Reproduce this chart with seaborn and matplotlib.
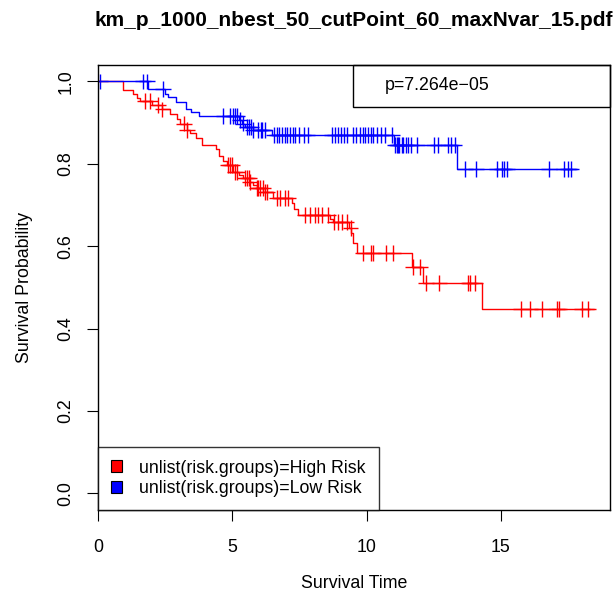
import numpy as np
import pandas as pd
import matplotlib
matplotlib.use("Agg")
import matplotlib.pyplot as plt
from matplotlib.patches import Patch, Rectangle
import seaborn as sns

# --- Data (time, survival after the drop) ---
high_event_times = [0.94, 1.29, 1.44, 1.56, 2.00, 2.37, 2.68, 2.95, 3.05, 3.30,
                    3.43, 3.65, 3.86, 4.39, 4.52, 4.64, 4.82, 5.04, 5.23, 5.41,
                    5.63, 5.78, 5.91, 6.16, 6.51, 7.21, 7.30, 7.46, 8.64, 8.74,
                    9.36, 9.42, 9.50, 9.63, 11.68, 12.09, 14.29]
high_event_surv = [0.980, 0.969, 0.960, 0.952, 0.942, 0.932, 0.922, 0.910, 0.898, 0.882,
                   0.874, 0.863, 0.846, 0.836, 0.819, 0.807, 0.797, 0.781, 0.773, 0.765,
                   0.757, 0.749, 0.741, 0.731, 0.718, 0.705, 0.691, 0.675, 0.667, 0.659,
                   0.645, 0.632, 0.608, 0.584, 0.550, 0.511, 0.447]
high_end_time = 18.48
high_censor = [1.75, 1.94, 2.24, 2.40, 3.21, 3.30, 4.84, 4.92, 5.00, 5.10, 5.18,
               5.47, 5.55, 5.62, 5.66, 5.91, 5.97, 6.03, 6.15, 6.22, 6.30,
               6.65, 6.78, 6.96, 7.09, 7.71, 7.90, 8.08, 8.19, 8.33, 8.57,
               8.80, 8.95, 9.10, 9.25, 9.40, 9.86, 10.16, 10.23, 10.73, 10.98,
               11.74, 11.99, 12.22, 12.71, 13.79, 13.85, 14.04,
               15.75, 16.09, 16.52, 17.08, 17.16, 18.01, 18.24]

low_event_times = [1.87, 2.50, 2.62, 2.90, 3.28, 3.45, 3.77, 5.25, 5.35, 5.47,
                   5.78, 6.47, 11.00, 13.35]
low_event_surv = [0.981, 0.969, 0.963, 0.949, 0.934, 0.926, 0.917, 0.906, 0.898, 0.890,
                  0.882, 0.870, 0.846, 0.788]
low_end_time = 17.83
low_censor = [0.07, 1.69, 1.81, 2.43, 4.67, 4.92, 5.04, 5.10, 5.16, 5.29, 5.40,
              5.55, 5.62, 5.70, 5.78, 5.96, 6.05, 6.12, 6.20,
              6.55, 6.65, 6.75, 6.85, 6.95, 7.05, 7.15, 7.25, 7.35, 7.50, 7.65, 7.80,
              8.70, 8.82, 8.95, 9.05, 9.15, 9.26, 9.50, 9.62, 9.75, 9.85, 9.95,
              10.05, 10.15, 10.25, 10.40, 10.55, 10.70, 10.95,
              11.07, 11.12, 11.17, 11.22, 11.30, 11.35, 11.45, 11.55, 11.65, 11.87,
              12.50, 12.65, 13.02, 13.15, 13.27, 13.67, 14.06, 14.84, 15.05, 15.12,
              15.24, 16.80, 17.36, 17.49, 17.61]

group_names = ["High Risk", "Low Risk"]
group_colors = {"High Risk": "red", "Low Risk": "blue"}
legend_labels = ["unlist(risk.groups)=High Risk", "unlist(risk.groups)=Low Risk"]
p_text = "p=7.264e\u221205"
title = "km_p_1000_nbest_50_cutPoint_60_maxNvar_15.pdf"


def step_frame(name, times, surv, end_time):
    t = [0.0] + list(times) + [end_time]
    s = [1.0] + list(surv) + [surv[-1]]
    return pd.DataFrame({"time": t, "surv": s, "group": name})


def censor_frame(name, times, surv, cens):
    times = np.asarray(times)
    surv = np.asarray(surv)
    idx = np.searchsorted(times, cens, side="right")
    s = np.where(idx == 0, 1.0, surv[np.maximum(idx - 1, 0)])
    return pd.DataFrame({"time": cens, "surv": s, "group": name})


curves = pd.concat([
    step_frame("High Risk", high_event_times, high_event_surv, high_end_time),
    step_frame("Low Risk", low_event_times, low_event_surv, low_end_time),
], ignore_index=True)
marks = pd.concat([
    censor_frame("High Risk", high_event_times, high_event_surv, high_censor),
    censor_frame("Low Risk", low_event_times, low_event_surv, low_censor),
], ignore_index=True)

sns.set_style("ticks")
plt.rcParams["font.family"] = ["Liberation Sans", "DejaVu Sans"]
plt.rcParams["text.color"] = "black"

fig = plt.figure(figsize=(6.14, 5.93), dpi=100)
ax = fig.add_axes([0.1596, 0.14, 0.834, 0.7504])

sns.lineplot(data=curves, x="time", y="surv", hue="group", palette=group_colors,
             hue_order=group_names, drawstyle="steps-post", estimator=None,
             linewidth=1.0, legend=False, ax=ax)
sns.scatterplot(data=marks, x="time", y="surv", hue="group", palette=group_colors,
                hue_order=group_names, marker="+", s=130, linewidth=1.0,
                legend=False, ax=ax)

ax.set_xlim(0, 19.06)
ax.set_ylim(-0.04, 1.04)
ax.set_xticks([0, 5, 10, 15])
ax.set_yticks([0.0, 0.2, 0.4, 0.6, 0.8, 1.0])
ax.set_yticklabels(["0.0", "0.2", "0.4", "0.6", "0.8", "1.0"])
ax.set_xlabel("")
ax.set_ylabel("")
ax.tick_params(axis="both", direction="out", length=8, width=0.8,
               labelsize=12.8, color="black", labelcolor="black")
ax.tick_params(axis="x", pad=13)
ax.tick_params(axis="y", pad=9, labelrotation=90)
for lab in ax.get_yticklabels():
    lab.set_va("center")
for sp in ax.spines.values():
    sp.set_visible(True)
    sp.set_color("black")
    sp.set_linewidth(1.0)

# legend box in the lower left
handles = [Patch(facecolor=group_colors[g], edgecolor="black", linewidth=0.8)
           for g in group_names]
leg = ax.legend(handles, legend_labels, loc="lower left", bbox_to_anchor=(0, 0),
                borderaxespad=0, fontsize=12.8, frameon=True, fancybox=False,
                edgecolor="black", handlelength=0.65, handleheight=0.65,
                handletextpad=0.95, labelspacing=0.2, borderpad=0.72)
leg.get_frame().set_linewidth(1.0)
for t in leg.get_texts():
    t.set_color("black")

# p-value box in the upper right
ax.add_patch(Rectangle((0.498, 0.906), 0.502, 0.094, transform=ax.transAxes,
                       fill=False, edgecolor="black", linewidth=1.0, clip_on=False))
ax.text(0.56, 0.953, p_text, transform=ax.transAxes, ha="left", va="center",
        fontsize=12.8, color="black")

fig.text(0.5765, 1 - 20 / 593, title, ha="center", va="center",
         fontsize=15, fontweight="bold", color="black")
fig.text(0.5765, 0.016, "Survival Time", ha="center", va="center",
         fontsize=12.8, color="black")
fig.text(0.04, 0.515, "Survival Probability", ha="center", va="center",
         rotation=90, fontsize=12.8, color="black")

fig.savefig("out.png", dpi=100)
